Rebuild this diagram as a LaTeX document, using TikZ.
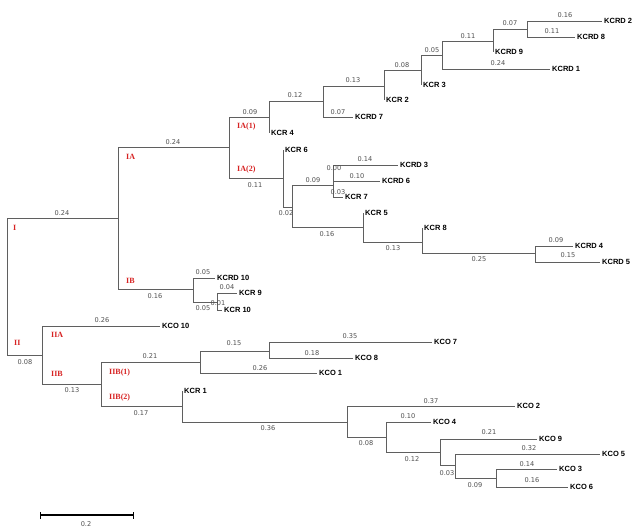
\documentclass[tikz,border=0pt]{standalone}
\usepackage{fontspec}
\newfontfamily\taxfont{Liberation Sans}
\newfontfamily\numfont{DejaVu Sans}
\newfontfamily\cladefont{Liberation Serif}
\definecolor{cladered}{RGB}{215,35,35}
\definecolor{linegray}{RGB}{95,95,95}
\definecolor{numgray}{RGB}{80,80,80}
\begin{document}
\begin{tikzpicture}[x=1pt,y=-1pt,
  br/.style={draw=linegray,line width=0.8pt},
  leaf/.style={anchor=west,inner sep=2pt,font=\taxfont\bfseries\fontsize{7.5}{8}\selectfont,text height=5.4pt,text depth=0pt},
  blen/.style={inner sep=0pt,font=\numfont\fontsize{6.6}{7}\selectfont,text=numgray,text height=4.8pt,text depth=0pt},
  clade/.style={anchor=west,inner sep=0pt,font=\cladefont\bfseries\fontsize{8}{9}\selectfont,text=cladered,text height=5.4pt,text depth=0pt}]
\useasboundingbox[fill=white] (0,0) rectangle (639,530);

% internal nodes
\foreach \n/\x/\y in {R/7/287, I/118/218, II/42/355, IA/229/147, IB/193/289,
  IAa/269/117, A323/323/101, A384/384/86, A421/421/70, A442/442/55, A493/493/41, A527/527/29,
  IAb/283/178, B292/292/207, B333/333/185, B333b/333/173, B363/363/227, B422/422/242, B535/535/253,
  B217/217/302, IIB/101/384, IIBa/200/362, C269/269/351, IIBb/182/406, C347/347/422,
  C386/386/437, C440/440/452, C455/455/465, C496/496/478}
  \coordinate (\n) at (\x,\y);

% leaves
\foreach \n/\x/\y/\t in {KCRD2/602/21/KCRD 2, KCRD8/575/37/KCRD 8, KCRD9/493/52/KCRD 9,
  KCRD1/550/69/KCRD 1, KCR3/421/85/KCR 3, KCR2/384/100/KCR 2, KCRD7/353/117/KCRD 7,
  KCR4/269/133/KCR 4, KCR6/283/150/KCR 6, KCRD3/398/165/KCRD 3, KCRD6/380/181/KCRD 6,
  KCR7/343/197/KCR 7, KCR5/363/213/KCR 5, KCR8/422/228/KCR 8, KCRD4/573/246/KCRD 4,
  KCRD5/600/262/KCRD 5, KCRD10/215/278/KCRD 10, KCR9/237/293/KCR 9, KCR10/222/310/KCR 10,
  KCO10/160/326/KCO 10, KCO7/432/342/KCO 7, KCO8/353/358/KCO 8, KCO1/317/373/KCO 1,
  KCR1/182/391/KCR 1, KCO2/515/406/KCO 2, KCO4/431/422/KCO 4, KCO9/537/439/KCO 9,
  KCO5/600/454/KCO 5, KCO3/557/469/KCO 3, KCO6/568/487/KCO 6}
  \node[leaf] (\n) at (\x,\y) {\t};

% branches
\foreach \p/\c in {R/I, R/II, I/IA, I/IB, IA/IAa, IA/IAb,
  IAa/A323, IAa/KCR4.west, A323/A384, A323/KCRD7.west, A384/A421, A384/KCR2.west,
  A421/A442, A421/KCR3.west, A442/A493, A442/KCRD1.west, A493/A527, A493/KCRD9.west,
  A527/KCRD2.west, A527/KCRD8.west,
  IAb/KCR6.west, IAb/B292, B292/B333, B292/B363, B333/B333b, B333/KCR7.west,
  B333b/KCRD3.west, B333b/KCRD6.west, B363/KCR5.west, B363/B422, B422/KCR8.west, B422/B535,
  B535/KCRD4.west, B535/KCRD5.west, IB/KCRD10.west, IB/B217, B217/KCR9.west, B217/KCR10.west,
  II/KCO10.west, II/IIB, IIB/IIBa, IIB/IIBb, IIBa/C269, IIBa/KCO1.west, C269/KCO7.west, C269/KCO8.west,
  IIBb/KCR1.west, IIBb/C347, C347/KCO2.west, C347/C386, C386/KCO4.west, C386/C440,
  C440/KCO9.west, C440/C455, C455/KCO5.west, C455/C496, C496/KCO3.west, C496/KCO6.west}
  \draw[br] (\p) |- (\c);

% branch lengths
\foreach \x/\y/\t [count=\i] in {62/213/0.24, 25/362/0.08, 173/142/0.24, 155/296/0.16,
  250/112/0.09, 295/95/0.12, 353/80/0.13, 338/112/0.07, 402/65/0.08, 432/50/0.05,
  468/36/0.11, 498/63/0.24, 510/23/0.07, 565/15/0.16, 552/31/0.11,
  255/185/0.11, 286/213/0.02, 313/180/0.09, 327/234/0.16, 334/168/0.00, 365/159/0.14,
  357/176/0.10, 338/192/0.03, 393/248/0.13, 479/259/0.25, 556/240/0.09, 568/255/0.15,
  203/272/0.05, 203/308/0.05, 227/287/0.04, 218/303/0.01,
  102/320/0.26, 72/390/0.13, 150/356/0.21, 141/413/0.17, 234/343/0.15, 260/368/0.26,
  350/336/0.35, 312/353/0.18, 268/428/0.36, 431/401/0.37, 366/443/0.08, 408/416/0.10,
  412/459/0.12, 489/432/0.21, 447/473/0.03, 529/448/0.32, 475/485/0.09, 527/464/0.14,
  532/480/0.16}
  \node[blen] (bl\i) at (\x,\y) {\t};

% clade labels
\foreach \n/\x/\y/\t in {cI/13/228/I, cII/14/343/II, cIA/126/157/IA, cIB/126/281/IB,
  cIAa/237/126/IA(1), cIAb/237/169/IA(2), cIIA/51/335/IIA, cIIB/51/374/IIB,
  cIIBa/109/372/IIB(1), cIIBb/109/397/IIB(2)}
  \node[clade] (\n) at (\x,\y) {\t};

% scale bar
\coordinate (sbL) at (40,515);
\coordinate (sbR) at (133,515);
\draw[line width=1.4pt] (sbL) -- (sbR);
\draw[line width=1pt] ([yshift=-3.5pt]sbL) -- ([yshift=3.5pt]sbL);
\draw[line width=1pt] ([yshift=-3.5pt]sbR) -- ([yshift=3.5pt]sbR);
\node[blen] (sblab) at (86,524) {0.2};
\end{tikzpicture}
\end{document}
